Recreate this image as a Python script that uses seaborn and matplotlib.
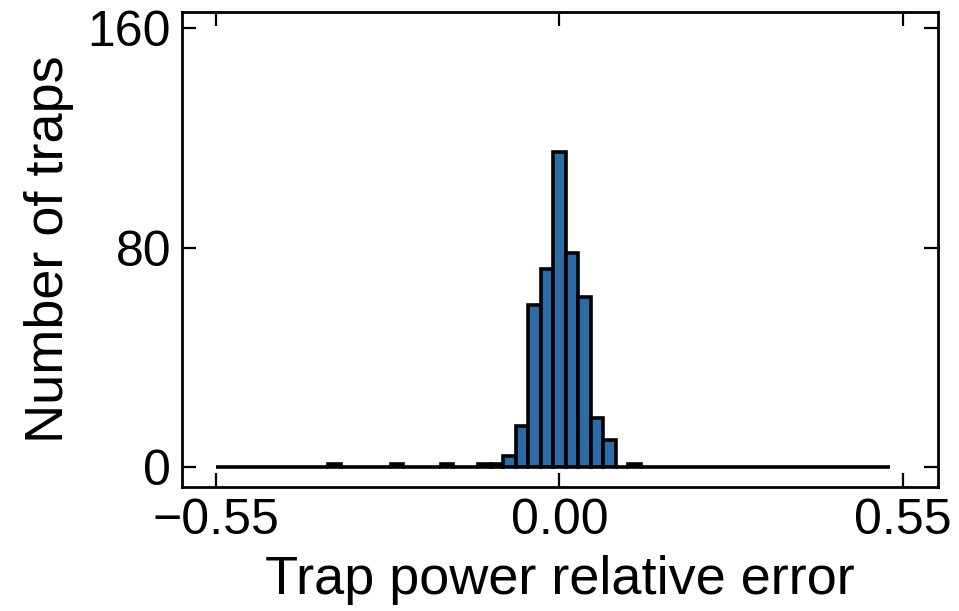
import numpy as np
import pandas as pd
import matplotlib
matplotlib.use("Agg")
import matplotlib.pyplot as plt
import seaborn as sns

# histogram of trap power relative error, bins of width 0.02 from -0.55 to 0.53
bin_edges = [round(-0.55 + 0.02 * k, 2) for k in range(55)]
counts = [0, 0, 0, 0, 0, 0, 0, 0, 0, 1,    # -0.55 .. -0.37
          0, 0, 0, 0, 1, 0, 0, 0, 1, 0,    # -0.35 .. -0.17
          0, 1, 1, 4, 15, 59, 72, 115, 78, 62,  # -0.15 .. 0.03
          18, 10, 0, 1, 0, 0, 0, 0, 0, 0,  # 0.05 .. 0.23
          0, 0, 0, 0, 0, 0, 0, 0, 0, 0,    # 0.25 .. 0.43
          0, 0, 0, 0]                      # 0.45 .. 0.51

x_ticks = [-0.55, 0.0, 0.55]
x_ticklabels = ["\u22120.55", "0.00", "0.55"]
y_ticks = [0, 80, 160]

df = pd.DataFrame({"center": [e + 0.01 for e in bin_edges[:-1]], "count": counts})

sns.set_style("ticks")
plt.rcParams["font.family"] = ["Liberation Sans", "DejaVu Sans"]

fig = plt.figure(figsize=(9.59, 6.11), dpi=100)
ax = fig.add_axes([0.19, 0.203, 0.788, 0.777])

sns.histplot(data=df, x="center", weights="count", bins=bin_edges, ax=ax,
             color="#2C6BA6", alpha=1, edgecolor="black", linewidth=2.6)

ax.set_xlim(-0.604, 0.606)
ax.set_ylim(-7.3, 165.8)
ax.set_xticks(x_ticks)
ax.set_xticklabels(x_ticklabels)
ax.set_yticks(y_ticks)
ax.set_xlabel("Trap power relative error", fontsize=39, labelpad=8, color="black")
ax.set_ylabel("Number of traps", fontsize=39, labelpad=10, color="black")
ax.tick_params(direction="in", length=10, width=1.6, labelsize=36, pad=8,
               top=True, right=True, colors="black")
for s in ax.spines.values():
    s.set_linewidth(2.0)
    s.set_color("black")

fig.savefig("out.png", dpi=100)
